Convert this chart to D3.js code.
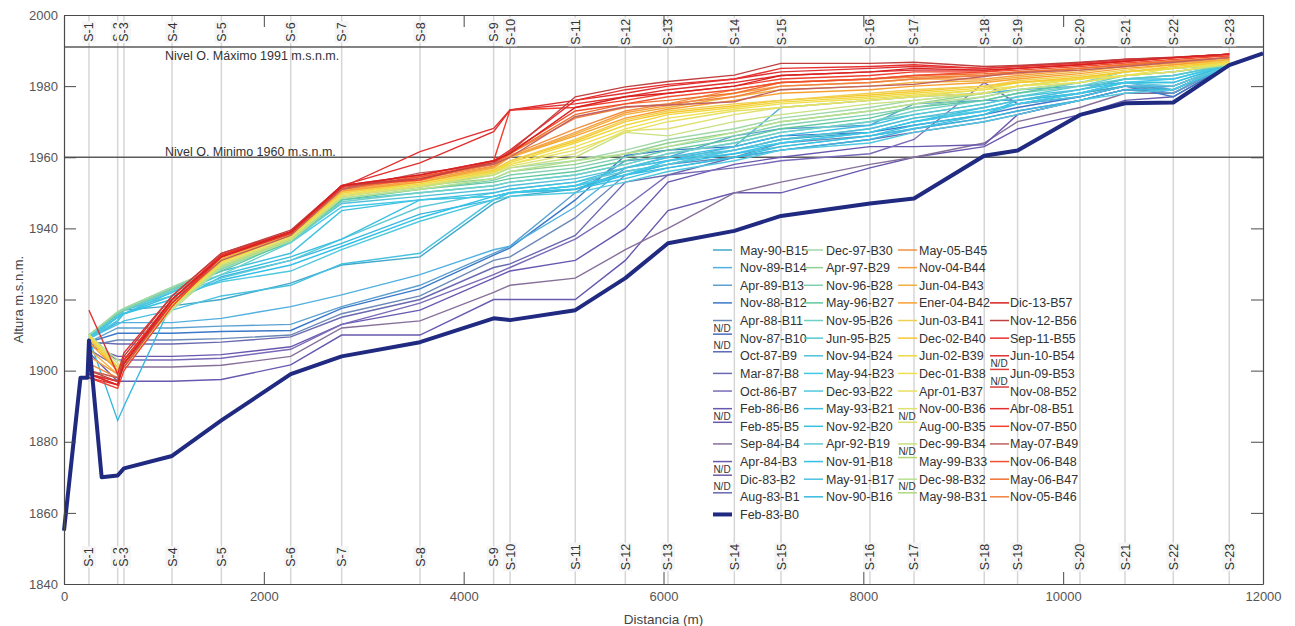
<!DOCTYPE html>
<html>
<head>
<meta charset="utf-8">
<script src="https://cdn.jsdelivr.net/npm/d3@7"></script>
<style>
  body { margin: 0; background: #fff; }
  svg text { font-family: 'Liberation Sans', Arial, sans-serif; }
</style>
</head>
<body>
<script>
const width = 1295
const height = 626
const margin = { top: 15, right: 32, bottom: 42, left: 64 }

// secciones de control (distancia en m)
const sectionNames = ['S-1', 'S-2', 'S-3', 'S-4', 'S-5', 'S-6', 'S-7', 'S-8', 'S-9', 'S-10', 'S-11', 'S-12',
  'S-13', 'S-14', 'S-15', 'S-16', 'S-17', 'S-18', 'S-19', 'S-20', 'S-21', 'S-22', 'S-23']
const sectionDist = [250, 537, 600, 1081, 1575, 2269, 2779, 3563, 4300, 4464, 5117, 5618,
  6045, 6709, 7176, 8066, 8507, 9210, 9544, 10168, 10619, 11102, 11662]

const xTicks = [0, 2000, 4000, 6000, 8000, 10000, 12000]
const yTicks = [1840, 1860, 1880, 1900, 1920, 1940, 1960, 1980, 2000]

const levelValues = [1991, 1960]
const levelLabels = ['Nivel O. Máximo 1991 m.s.n.m.', 'Nivel O. Minimo 1960 m.s.n.m.']

// fechas de las batimetrias B0..B57
const surveyDates = ['Feb-83', 'Aug-83', 'Dic-83', 'Apr-84', 'Sep-84', 'Feb-85', 'Feb-86', 'Oct-86', 'Mar-87',
  'Oct-87', 'Nov-87', 'Apr-88', 'Nov-88', 'Apr-89', 'Nov-89', 'May-90', 'Nov-90', 'May-91', 'Nov-91',
  'Apr-92', 'Nov-92', 'May-93', 'Dec-93', 'May-94', 'Nov-94', 'Jun-95', 'Nov-95', 'May-96', 'Nov-96',
  'Apr-97', 'Dec-97', 'May-98', 'Dec-98', 'May-99', 'Dec-99', 'Aug-00', 'Nov-00', 'Apr-01', 'Dec-01',
  'Jun-02', 'Dec-02', 'Jun-03', 'Ener-04', 'Jun-04', 'Nov-04', 'May-05', 'Nov-05', 'May-06', 'Nov-06',
  'May-07', 'Nov-07', 'Abr-08', 'Nov-08', 'Jun-09', 'Jun-10', 'Sep-11', 'Nov-12', 'Dic-13']
const noData = [1, 2, 5, 9, 10, 31, 33, 35, 52, 53]

// perfil original B0 (con puntos extra)
const b0Dist = [0, 165, 235, 250, 377, 537, 600, 1081, 1575, 2269, 2779, 3563, 4300, 4464, 5117, 5618,
  6045, 6709, 7176, 8066, 8507, 9210, 9544, 10168, 10619, 11102, 11662, 12000]
const b0Elev = [1855, 1898, 1898, 1908.5, 1870, 1870.5, 1872.5, 1876, 1886, 1899, 1904, 1908, 1914.7, 1914.2,
  1917, 1926, 1935.8, 1939.3, 1943.5, 1947, 1948.4, 1960.4, 1961.9, 1971.9, 1975.2, 1975.4, 1985.9, 1989.2]

// elevaciones por seccion S-1..S-23
const purpleIds = [3, 4, 6, 7, 8]
const purpleElev = [
  [1905, 1897, 1897, 1897, 1897.5, 1901.6, 1910, 1910, 1920, 1920, 1920, 1931, 1945, 1950, 1950, 1957, 1960, 1963, 1968, 1972, 1976, 1977, 1986],
  [1906, 1901, 1901, 1901, 1901.5, 1904, 1912, 1914, 1922, 1924, 1926, 1934, 1940, 1950, 1953, 1958, 1960, 1964, 1970, 1974, 1978, 1978, 1986],
  [1907, 1904, 1904, 1904, 1904.5, 1906.7, 1913, 1917, 1926, 1928, 1931, 1940, 1953, 1958, 1960, 1963, 1963, 1963.5, 1972, 1976, 1979, 1979, 1986],
  [1908, 1903, 1903, 1903, 1903.5, 1906, 1913, 1919, 1927, 1929, 1937, 1946, 1955, 1957, 1959, 1961, 1965, 1981, 1975, 1977, 1980, 1980, 1986],
  [1908, 1907.5, 1907.5, 1907.5, 1908, 1909.5, 1915, 1920, 1929, 1930, 1938, 1953, 1955, 1960, 1962, 1965, 1967, 1970, 1972, 1976, 1979, 1980, 1986]
]
const blueIds = [11, 12, 13, 14, 15]
const blueElev = [
  [1907, 1908.6, 1908.6, 1908.6, 1909, 1910, 1916, 1921, 1931, 1932, 1943, 1955, 1958, 1960, 1964, 1966, 1968, 1971, 1973, 1976, 1979, 1978, 1986],
  [1908, 1910.5, 1910.5, 1910.5, 1911, 1911.3, 1917.5, 1923, 1932.5, 1934.5, 1948, 1960.5, 1962, 1963, 1966, 1967, 1969, 1972, 1974, 1977, 1980, 1977, 1986],
  [1908, 1912, 1912, 1912, 1912.5, 1913, 1918, 1924, 1933, 1935, 1950, 1959, 1960, 1966, 1968, 1969, 1975, 1976, 1976, 1978, 1980, 1978, 1986],
  [1909, 1913.5, 1913.5, 1913.5, 1914.7, 1918, 1921.3, 1927, 1934, 1935, 1946, 1957, 1959, 1963, 1974, 1976, 1977, 1978, 1979, 1980, 1981, 1979, 1986],
  [1909, 1914, 1917, 1918.2, 1920, 1924.6, 1929.7, 1932, 1947, 1949, 1951, 1956, 1958, 1962, 1965, 1967, 1970, 1973, 1975, 1978, 1980, 1979, 1986]
]
const cyanIds = [16, 17, 18, 19, 20, 21, 22, 23, 24, 25]
const cyanElev = [
  [1909, 1886, 1890, 1919, 1926.4, 1931, 1935.8, 1944, 1948, 1950, 1951, 1955, 1957, 1960, 1962, 1965, 1968, 1971, 1973, 1976, 1979, 1979, 1985.5],
  [1909, 1913, 1914, 1917, 1921, 1924, 1930, 1933, 1948, 1950, 1952, 1957, 1959, 1961, 1963, 1966, 1968, 1972, 1975, 1977, 1980, 1980, 1986],
  [1909, 1914, 1916, 1920, 1925.5, 1929.7, 1934.9, 1943, 1949, 1950, 1952, 1955, 1958, 1961, 1964, 1967, 1970, 1974, 1976, 1978, 1981, 1981, 1986],
  [1909, 1915, 1917, 1921, 1926, 1931, 1937, 1946, 1950, 1951, 1953, 1956, 1958, 1962, 1965, 1968, 1971, 1973, 1975, 1978, 1981, 1980, 1986],
  [1909, 1915, 1916, 1921, 1927, 1932, 1937, 1948, 1949, 1950, 1951, 1954, 1957, 1960, 1963, 1966, 1969, 1972, 1976, 1979, 1981, 1981, 1986],
  [1909.5, 1915, 1916, 1922, 1928, 1933, 1945, 1948, 1950, 1951, 1953, 1957, 1960, 1963, 1966, 1969, 1972, 1975, 1977, 1979, 1982, 1982, 1986],
  [1909, 1914, 1917, 1921, 1925, 1928, 1934, 1942, 1948, 1949, 1950, 1953, 1956, 1959, 1962, 1964, 1967, 1970, 1972, 1976, 1978, 1979, 1986],
  [1909.5, 1915, 1917, 1922, 1929, 1936, 1946, 1948, 1949, 1950, 1952, 1955, 1959, 1962, 1964, 1967, 1970, 1973, 1975, 1978, 1981, 1982, 1986],
  [1910, 1915.5, 1917, 1922.5, 1929, 1936.5, 1947, 1949, 1951, 1952, 1954, 1957, 1960, 1962, 1965, 1968, 1971, 1974, 1976, 1979, 1982, 1983, 1986],
  [1910, 1915.5, 1917, 1923, 1929.5, 1937, 1948, 1950, 1952, 1953, 1955, 1958, 1961, 1964, 1967, 1970, 1972, 1975, 1977, 1980, 1982, 1983, 1986]
]
const greenIds = [26, 27, 28, 29, 30]
const greenElev = [
  [1910, 1916, 1917, 1922.5, 1927, 1936, 1947.5, 1950, 1952, 1953, 1955, 1958, 1961, 1964, 1967, 1970, 1973, 1976, 1978, 1980, 1983, 1984, 1986],
  [1910, 1916, 1917, 1923, 1928, 1936.5, 1948, 1951, 1953, 1954, 1956, 1959, 1962, 1965, 1968, 1971, 1974, 1976, 1978, 1981, 1983, 1984, 1986],
  [1910, 1916.2, 1917, 1923, 1928.5, 1937, 1948.5, 1951, 1953.5, 1955, 1957, 1960, 1963, 1966, 1969, 1972, 1974, 1977, 1979, 1981, 1984, 1985, 1986],
  [1910, 1916.5, 1917.5, 1923.5, 1929, 1937, 1949, 1952, 1954, 1956, 1958, 1961, 1964, 1967, 1970, 1973, 1975, 1978, 1980, 1982, 1984, 1985, 1986],
  [1910, 1916.5, 1917.5, 1923.5, 1929.5, 1937.5, 1949, 1952, 1955, 1957, 1959, 1962, 1965, 1968, 1971, 1974, 1976, 1978, 1980, 1982, 1984, 1985, 1986]
]
const limeIds = [32, 34, 36]
const limeElev = [
  [1910, 1903, 1902, 1917, 1929, 1936.5, 1948.5, 1951, 1954, 1956, 1959, 1961, 1963, 1967, 1970, 1973, 1975, 1977, 1979, 1981, 1983, 1984, 1986],
  [1910, 1902, 1901, 1917.5, 1929.5, 1937, 1949, 1951.5, 1955, 1957, 1960, 1967, 1966, 1970, 1972, 1975, 1976, 1978, 1980, 1982, 1984, 1985, 1986],
  [1910, 1901, 1901, 1918, 1930, 1937.5, 1949, 1952, 1955.5, 1957.5, 1961, 1967.5, 1968, 1972, 1974, 1976, 1977, 1979, 1981, 1982, 1984, 1985, 1986.5]
]
const yellowIds = [37, 38, 39, 40, 41]
const yellowElev = [
  [1910, 1901, 1902, 1918, 1930, 1937.5, 1949.5, 1952, 1955.6, 1958, 1962, 1967, 1970, 1973, 1974, 1976, 1977, 1978, 1980, 1981, 1983, 1984, 1986.5],
  [1910, 1900, 1901, 1918, 1930.5, 1938, 1949.5, 1952.5, 1956, 1958, 1963, 1968, 1971, 1973.5, 1975, 1976.5, 1977.5, 1979, 1980, 1982, 1983, 1985, 1986.5],
  [1909.5, 1900, 1902, 1918.5, 1930.5, 1938, 1950, 1952.5, 1956, 1958.5, 1964, 1969, 1972, 1974, 1975.5, 1977, 1978, 1979.5, 1981, 1982, 1984, 1985, 1987],
  [1909, 1900, 1902, 1918.5, 1931, 1938, 1950, 1953, 1956.4, 1959, 1964.5, 1970, 1972.5, 1974.5, 1976, 1977.5, 1978.5, 1980, 1981, 1982.5, 1984, 1985.5, 1987],
  [1909, 1901, 1903, 1919, 1931, 1938.5, 1950, 1953, 1956.5, 1959, 1965, 1970.5, 1973, 1975, 1976, 1978, 1979, 1980, 1981.5, 1983, 1984.5, 1986, 1987]
]
const orangeIds = [42, 43, 44, 45, 46, 47]
const orangeElev = [
  [1908, 1900, 1903, 1919, 1931.5, 1938.5, 1950.5, 1953, 1957, 1960, 1966, 1971, 1973.5, 1976, 1978, 1979, 1980, 1981, 1982, 1983.5, 1985, 1986, 1987.5],
  [1906, 1899, 1902, 1919, 1931.5, 1938.5, 1950.5, 1953.5, 1957, 1960, 1966.5, 1972, 1974, 1977, 1979, 1980, 1981, 1981.5, 1982.5, 1984, 1985.5, 1986.5, 1987.5],
  [1904, 1899, 1903, 1920, 1932, 1938.5, 1950.5, 1953.5, 1957.3, 1960.2, 1967, 1972.5, 1974.5, 1978, 1980, 1981, 1982, 1982, 1983, 1984.5, 1985.5, 1986.5, 1988],
  [1902, 1898, 1902, 1920, 1932, 1939, 1951, 1954, 1957.5, 1960.5, 1968, 1973, 1975, 1979, 1981, 1982, 1982.5, 1983, 1983.5, 1985, 1986, 1987, 1988],
  [1900, 1898, 1901, 1919, 1932, 1939, 1951, 1954, 1958, 1961, 1971, 1974, 1975, 1977, 1980, 1981, 1982, 1983, 1984, 1985, 1986, 1987, 1988],
  [1899, 1897, 1901, 1920, 1932.5, 1939, 1951, 1954.5, 1958, 1961, 1972, 1975, 1976, 1978, 1981, 1982, 1983, 1983.5, 1984, 1985, 1986, 1987, 1988]
]
const redIds = [48, 49, 50, 51, 54, 55, 56, 57]
const redElev = [
  [1899, 1896, 1903, 1920, 1932.5, 1939, 1951.5, 1954.5, 1958.5, 1961.5, 1973, 1975, 1977, 1979, 1981, 1982, 1983, 1984, 1984.5, 1985.5, 1986.5, 1987.5, 1988.5],
  [1900, 1898, 1901, 1919, 1931, 1938, 1951, 1955.6, 1958, 1960, 1971.4, 1974.2, 1974.7, 1975.6, 1979, 1980, 1980.5, 1982.7, 1983.8, 1984.5, 1985.5, 1986.7, 1988],
  [1898, 1895, 1900, 1918, 1932, 1939, 1952, 1953.6, 1959, 1973.3, 1974, 1976, 1978, 1980, 1982, 1983, 1984, 1984, 1985, 1986, 1987, 1988, 1988.5],
  [1917, 1899, 1905, 1921, 1933, 1939, 1952, 1958.4, 1967.2, 1973.3, 1975, 1977, 1979, 1981, 1983, 1984, 1984.5, 1984.5, 1985, 1986, 1987, 1988, 1989],
  [1899, 1897, 1902, 1919, 1932, 1938.5, 1951.5, 1961.6, 1968.1, 1973.3, 1976, 1978, 1980, 1982, 1984, 1985, 1985.5, 1985, 1985.5, 1986.5, 1987.5, 1988, 1989],
  [1898, 1896, 1903, 1920, 1932.5, 1939, 1952, 1955, 1959, 1962, 1976, 1979, 1980.5, 1982, 1985, 1985.5, 1986, 1985, 1985.5, 1986.5, 1987.5, 1988, 1989],
  [1900, 1897, 1904, 1921, 1933, 1939.5, 1952, 1954, 1958.5, 1961.5, 1977, 1979.8, 1981.3, 1983.1, 1986.4, 1986.4, 1986.7, 1985.5, 1985.8, 1986.7, 1987.6, 1988.1, 1989],
  [1899, 1896, 1902, 1920, 1932, 1939, 1952, 1955, 1959, 1961, 1974, 1977, 1978, 1980, 1983, 1984, 1985, 1984.5, 1985, 1986, 1987, 1988, 1989]
]

// colores por batimetria (tipo jet aclarado)
const surveyColor = ['#1f2a80', '#6a66b0', '#6a5aa8', '#6858b0', '#86709a', '#6a58a8', '#6a58b0', '#7a6ab8',
  '#6a6ab0', '#5a6ab8', '#4a6ac0', '#6a88b8', '#3a78c8', '#5aa0d0', '#50b0e0', '#40a8c8', '#38b8e0',
  '#48c0e0', '#30c0e8', '#60c8d8', '#38c0e0', '#40c0e0', '#50c8e0', '#40c8e8', '#50c0d8', '#58c8d0',
  '#70d0c8', '#60c8a0', '#80d0b0', '#90d090', '#a0d8a8', '#b0d880', '#b8e090', '#b0d870', '#c8e080',
  '#d8e070', '#e0e070', '#e8e060', '#f0e050', '#f0d840', '#f8c830', '#f0d050', '#f8a030', '#f0b040',
  '#f8a040', '#f09040', '#f08040', '#f07030', '#f05030', '#c06060', '#f04030', '#e03030', '#d84040',
  '#e04040', '#e03030', '#e83030', '#c04040', '#d82020']

const series = []
;[[purpleIds, purpleElev], [blueIds, blueElev], [cyanIds, cyanElev], [greenIds, greenElev],
  [limeIds, limeElev], [yellowIds, yellowElev], [orangeIds, orangeElev], [redIds, redElev]]
  .forEach(([ids, rows]) => {
    ids.forEach((id, i) => {
      series.push({ id, points: rows[i].map((v, j) => [sectionDist[j], v]) })
    })
  })
series.sort((a, b) => a.id - b.id)

const svg = d3.select('body').append('svg')
  .attr('width', width)
  .attr('height', height)

const x = d3.scaleLinear().domain([0, 12000]).range([margin.left, width - margin.right])
const y = d3.scaleLinear().domain([1840, 2000]).range([height - margin.bottom, margin.top])

const line = d3.line()
  .x((d) => x(d[0]))
  .y((d) => y(d[1]))

// lineas verticales de secciones
svg.append('g')
  .selectAll('line')
  .data(sectionDist)
  .enter()
  .append('line')
  .attr('x1', (d) => x(d))
  .attr('x2', (d) => x(d))
  .attr('y1', y(2000))
  .attr('y2', y(1840))
  .attr('stroke', '#d6d6d6')
  .attr('stroke-width', 1.5)

// niveles de operacion
svg.append('g')
  .selectAll('line')
  .data(levelValues)
  .enter()
  .append('line')
  .attr('x1', x(0))
  .attr('x2', x(12000))
  .attr('y1', (d) => y(d))
  .attr('y2', (d) => y(d))
  .attr('stroke', '#5a5a5a')
  .attr('stroke-width', 1.5)

svg.append('g')
  .selectAll('text')
  .data(levelValues)
  .enter()
  .append('text')
  .attr('x', x(1010))
  .attr('y', (d, i) => i === 0 ? y(d) + 13 : y(d) - 1)
  .attr('text-anchor', 'start')
  .attr('font-size', 12.5)
  .attr('fill', '#333')
  .text((d, i) => levelLabels[i])

// perfiles
svg.append('g')
  .attr('fill', 'none')
  .selectAll('path')
  .data(series)
  .enter()
  .append('path')
  .attr('d', (d) => line(d.points))
  .attr('stroke', (d) => surveyColor[d.id])
  .attr('stroke-width', 1.4)

svg.append('path')
  .attr('d', line(b0Dist.map((d, i) => [d, b0Elev[i]])))
  .attr('fill', 'none')
  .attr('stroke', surveyColor[0])
  .attr('stroke-width', 4)
  .attr('stroke-linejoin', 'round')

// etiquetas de secciones arriba y abajo
;[32, 557].forEach((cy) => {
  let lab = svg.append('g')
    .selectAll('g')
    .data(sectionNames)
    .enter()
    .append('g')
    .attr('transform', (d, i) => `translate(${x(sectionDist[i])},${cy}) rotate(-90)`)

  lab.append('rect')
    .attr('x', (d) => -d.length * 3.6)
    .attr('y', -7)
    .attr('width', (d) => d.length * 7.2)
    .attr('height', 14)
    .attr('fill', '#f6f6f6')

  lab.append('text')
    .attr('text-anchor', 'middle')
    .attr('dy', '0.36em')
    .attr('font-size', 12.5)
    .attr('fill', '#333')
    .text((d) => d)
})

// ejes (estilo caja con ticks hacia adentro)
const axisColor = '#4a4a4a'
const styleAxis = (g) => {
  g.select('.domain').attr('stroke', axisColor).attr('stroke-width', 1.2)
  g.selectAll('.tick line').attr('stroke', axisColor)
  g.selectAll('.tick text').attr('fill', '#555').attr('font-size', 13)
    .attr('font-family', "'Liberation Sans', Arial, sans-serif")
}

svg.append('g')
  .attr('transform', `translate(0,${y(1840)})`)
  .call(d3.axisBottom(x).tickValues(xTicks).tickSizeInner(-12).tickSizeOuter(0).tickPadding(8).tickFormat(d3.format('d')))
  .call(styleAxis)

svg.append('g')
  .attr('transform', `translate(0,${y(2000)})`)
  .call(d3.axisTop(x).tickValues(xTicks).tickSizeInner(-12).tickSizeOuter(0).tickFormat(''))
  .call(styleAxis)

svg.append('g')
  .attr('transform', `translate(${x(0)},0)`)
  .call(d3.axisLeft(y).tickValues(yTicks).tickSizeInner(-12).tickSizeOuter(0).tickPadding(6).tickFormat(d3.format('d')))
  .call(styleAxis)

svg.append('g')
  .attr('transform', `translate(${x(12000)},0)`)
  .call(d3.axisRight(y).tickValues(yTicks).tickSizeInner(-12).tickSizeOuter(0).tickFormat(''))
  .call(styleAxis)

svg.append('text')
  .attr('x', x(6000))
  .attr('y', 619)
  .attr('dy', '0.35em')
  .attr('text-anchor', 'middle')
  .attr('font-size', 13.5)
  .attr('fill', '#444')
  .text('Distancia (m)')

svg.append('text')
  .attr('transform', `translate(18,${y(1920)}) rotate(-90)`)
  .attr('dy', '0.35em')
  .attr('text-anchor', 'middle')
  .attr('font-size', 13)
  .attr('fill', '#444')
  .text('Altura m.s.n.m.')

// leyenda en 4 columnas
const legendCols = [
  [15, 14, 13, 12, 11, 10, 9, 8, 7, 6, 5, 4, 3, 2, 1, 0],
  [30, 29, 28, 27, 26, 25, 24, 23, 22, 21, 20, 19, 18, 17, 16],
  [45, 44, 43, 42, 41, 40, 39, 38, 37, 36, 35, 34, 33, 32, 31],
  [57, 56, 55, 54, 53, 52, 51, 50, 49, 48, 47, 46]
]
const colLineX = [713, 804, 898, 990]
const colTextX = [740, 826, 919, 1010]
const colRowStart = [0, 0, 0, 3]
const rowY = (r) => 250 + r * 17.63

let legend = svg.append('g')
legendCols.forEach((ids, c) => {
  let item = legend.append('g')
    .selectAll('g')
    .data(ids)
    .enter()
    .append('g')
    .attr('transform', (d, i) => `translate(0,${rowY(i + colRowStart[c])})`)

  item.append('line')
    .attr('x1', colLineX[c])
    .attr('x2', colLineX[c] + 19)
    .attr('y1', (d) => noData.includes(d) ? -4 : 0)
    .attr('y2', (d) => noData.includes(d) ? -4 : 0)
    .attr('stroke', (d) => surveyColor[d])
    .attr('stroke-width', (d) => d === 0 ? 4 : 1.5)

  item.filter((d) => noData.includes(d))
    .append('text')
    .attr('x', colLineX[c] + 9)
    .attr('y', -10)
    .attr('dy', '0.35em')
    .attr('text-anchor', 'middle')
    .attr('font-size', 10)
    .attr('fill', '#333')
    .text('N/D')

  item.append('text')
    .attr('x', colTextX[c])
    .attr('dy', '0.36em')
    .attr('font-size', 12.5)
    .attr('fill', '#333')
    .text((d) => `${surveyDates[d]}-B${d}`)
})
</script>
</body>
</html>
